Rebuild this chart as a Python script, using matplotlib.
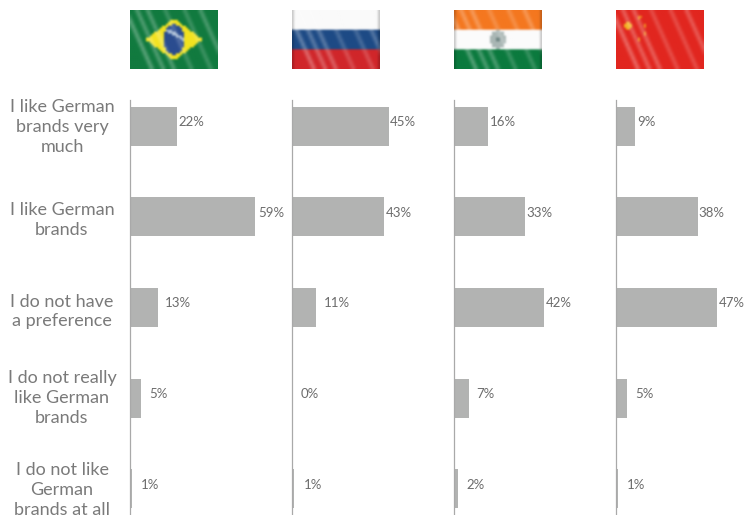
import numpy as np
import matplotlib
matplotlib.use("Agg")
import matplotlib.pyplot as plt
from matplotlib.transforms import blended_transform_factory

plt.rcParams['font.family'] = ['Lato', 'DejaVu Sans']

categories = [
    "I like German\nbrands very\nmuch",
    "I like German\nbrands",
    "I do not have\na preference",
    "I do not really\nlike German\nbrands",
    "I do not like\nGerman\nbrands at all",
]
brazil = [22, 59, 13, 5, 1]
russia = [45, 43, 11, 0, 1]
india = [16, 33, 42, 7, 2]
china = [9, 38, 47, 5, 1]
series = [brazil, russia, india, china]
countries = ["brazil", "russia", "india", "china"]

# Gap between bar end and its value label, in pixels
label_gaps = [
    [1, 1, 7, 9, 9],
    [1, 1, 8, 9, 10],
    [1, 1, 2, 7, 8],
    [2, 1, 2, 9, 9],
]
# Vertical nudges of the category captions, in pixels
caption_nudge = [1, 3, 4, 0, 1]

W, H = 744, 515
BAR = "#b2b3b2"
AXIS = "#a9a9a9"
CAPTION = "#7a7a7a"
VALUE = "#6c6c6c"

fig = plt.figure(figsize=(W / 100, H / 100), dpi=100, facecolor="white")

PX_PER_PCT = 2.15
PANEL_LEFT = [130.0, 292.0, 454.0, 616.0]
PANEL_W = 125
TOP, BOTTOM = 100, 515
ROW_0, ROW_STEP = 126.0, 90.75


def flag_pixels(name, nx=44, ny=30):
    u, v = np.meshgrid((np.arange(nx) + 0.5) / nx, (np.arange(ny) + 0.5) / ny)
    img = np.ones((ny, nx, 3))

    def fill(mask, hexcol):
        img[mask] = matplotlib.colors.to_rgb(hexcol)

    px, py = (u - 0.5) * 88, (v - 0.5) * 59
    if name == "brazil":
        fill(np.ones_like(u, bool), "#117a3f")
        fill(np.abs(px) / 28.5 + np.abs(py) / 21 < 1, "#f2e21f")
        globe = (px / 11) ** 2 + (py / 15) ** 2 < 1
        fill(globe, "#2a4c8f")
        band = np.abs(py + 6 - 0.5 * px - 0.02 * px ** 2)
        fill(globe & (band < 1.6), "#a9bdd6")
    elif name == "russia":
        fill(v < 0.33, "#fafafa")
        fill((v >= 0.33) & (v < 0.68), "#1d4a85")
        fill(v >= 0.68, "#d0262a")
    elif name == "india":
        fill(v < 0.34, "#f4771f")
        fill((v >= 0.34) & (v < 0.67), "#fbfbfb")
        fill(v >= 0.67, "#0b7a3e")
        fill((px / 8) ** 2 + (py / 9.5) ** 2 < 1, "#a9b6b4")
        fill((px / 2.5) ** 2 + (py / 3) ** 2 < 1, "#6f8583")
    else:
        fill(np.ones_like(u, bool), "#e1261f")
        fill(((u - 0.14) * 88) ** 2 + ((v - 0.26) * 59) ** 2 < 3.6 ** 2, "#f2b01e")
        for cu, cv in [(0.27, 0.13), (0.33, 0.26), (0.33, 0.40), (0.26, 0.50)]:
            fill(((u - cu) * 88) ** 2 + ((v - cv) * 59) ** 2 < 1.6 ** 2, "#ee8a1e")

    # Pale diagonal folds running across the cloth
    fold_pos = [-0.05, 0.08, 0.20, 0.40, 0.62, 0.80]
    fold_amt = [0.32, 0.28, 0.28, 0.20, 0.20, 0.26]
    for f, a in zip(fold_pos, fold_amt):
        d = np.abs(u - (f + 0.30 * v))
        strength = np.clip(1 - d / 0.045, 0, 1) * a
        img[:] = img * (1 - strength[..., None]) + strength[..., None]
    # Soft grey rim around the cloth
    if name in ("russia", "india"):
        rim = (u < 0.02) | (u > 0.98)
        img[rim] = img[rim] * 0.8
    return img


for name, values, left, gaps in zip(countries, series, PANEL_LEFT, label_gaps):
    ax = fig.add_axes([left / W, 1 - BOTTOM / H, PANEL_W / W, (BOTTOM - TOP) / H])
    ax.patch.set_alpha(0)
    ypos = np.arange(len(values))
    ax.barh(ypos, values, height=39 / ROW_STEP, color=BAR, linewidth=0)
    ax.set_xlim(0, PANEL_W / PX_PER_PCT)
    ax.set_ylim((BOTTOM - ROW_0) / ROW_STEP, (TOP - ROW_0) / ROW_STEP)
    for side in ("top", "right", "bottom"):
        ax.spines[side].set_visible(False)
    ax.spines["left"].set_color(AXIS)
    ax.spines["left"].set_linewidth(0.9)
    ax.set_xticks([])
    ax.set_yticks([])
    for y, val, gap in zip(ypos, values, gaps):
        ax.annotate(f"{val}%", xy=(val, y), xytext=(gap * 0.72, 3),
                    textcoords="offset points", ha="left", va="center",
                    fontsize=9.5, color=VALUE, annotation_clip=False)

    fx = fig.add_axes([left / W, 1 - 69 / H, 88 / W, 59 / H])
    fx.imshow(flag_pixels(name), aspect="auto", interpolation="bicubic", resample=True)
    fx.axis("off")

    if name == "brazil":
        trans = blended_transform_factory(fig.transFigure, ax.transData)
        for y, caption, nudge in zip(ypos, categories, caption_nudge):
            fig_y = y + nudge / ROW_STEP
            ax.text(62 / W, fig_y, caption, transform=trans, ha="center", va="center",
                    ma="center", fontsize=13, color=CAPTION, linespacing=1.3,
                    clip_on=False)

fig.savefig("out.png", dpi=100, facecolor="white")
